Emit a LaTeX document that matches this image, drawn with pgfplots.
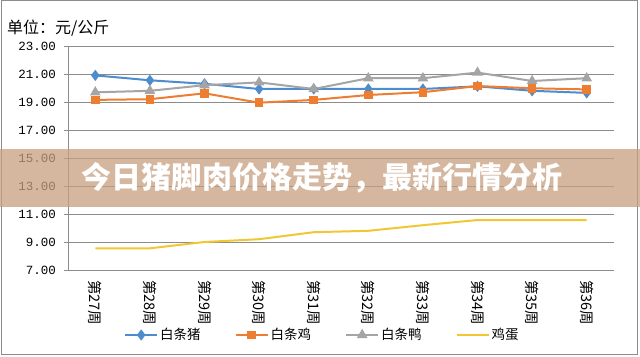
\documentclass[border=0pt]{standalone}
\usepackage{pgfplots}
\pgfplotsset{compat=1.18}
\usepackage{fontspec}
\setmainfont{Noto Sans CJK SC}
\newfontfamily\cjk{Noto Sans CJK SC}
\newfontfamily\numfont{Liberation Mono}
\definecolor{cblue}{RGB}{79,140,205}
\definecolor{corange}{RGB}{237,125,49}
\definecolor{cgray}{RGB}{165,165,165}
\definecolor{cyellow}{RGB}{242,200,50}
\definecolor{axgray}{RGB}{140,140,140}
\definecolor{banner}{RGB}{200,160,128}
\begin{document}
\begin{tikzpicture}[x=1bp,y=1bp]
\path[use as bounding box] (0,0) rectangle (640,356);
\fill[white] (0,0) rectangle (640,356);
\draw[axgray, line width=1bp] (1,2) rectangle (637,355);
\node[anchor=west, font=\cjk\fontsize{16bp}{16bp}\selectfont, inner sep=0pt] at (7,328) {单位：元/公斤};
\begin{axis}[
  at={(68bp,86bp)}, anchor=south west, scale only axis,
  width=546bp, height=224bp,
  xmin=0, xmax=10, ymin=7, ymax=23,
  axis x line*=bottom, axis y line*=left,
  axis line style={draw=axgray, line width=0.8bp},
  tick align=outside,
  major tick length=4bp,
  tick style={axgray, line width=0.8bp},
  ytick={7,9,...,23},
  yticklabels={7.00,9.00,11.00,13.00,15.00,17.00,19.00,21.00,23.00},
  yticklabel style={font=\numfont\fontsize{12.5bp}{12.5bp}\selectfont, inner sep=0pt, xshift=-8bp},
  ymajorgrids,
  grid style={axgray, line width=0.8bp},
  xtick={0.5,1.5,...,9.5},
  xticklabels={第27周,第28周,第29周,第30周,第31周,第32周,第33周,第34周,第35周,第36周},
  xtick style={draw=none},
  xticklabel style={rotate=-90, anchor=west, font=\cjk\fontsize{14.5bp}{14.5bp}\selectfont, inner ysep=0pt, inner xsep=6bp},
  extra x ticks={0,1,...,10},
  extra x tick labels={},
  extra x tick style={tick style={draw=axgray, line width=0.8bp}},
  legend columns=4,
  legend cell align=left,
  legend image code/.code={\draw[mark repeat=2,mark phase=2] plot coordinates {(0bp,0bp) (16bp,0bp) (32bp,0bp)};},
  legend style={draw=none, fill=none, at={(0.466,-0.29)}, anchor=center,
    font=\cjk\fontsize{13.5bp}{13.5bp}\selectfont,
    /tikz/every even column/.append style={column sep=32bp}},
]
\addplot[color=cblue, line width=2bp, mark=diamond*, mark size=4bp] coordinates {
 (0.5,20.9) (1.5,20.55) (2.5,20.3) (3.5,19.93) (4.5,19.93) (5.5,19.93) (6.5,19.93) (7.5,20.12) (8.5,19.8) (9.5,19.65)};
\addlegendentry{白条猪}
\addplot[color=corange, line width=2bp, mark=square*, mark size=3.3bp] coordinates {
 (0.5,19.15) (1.5,19.2) (2.5,19.62) (3.5,18.95) (4.5,19.15) (5.5,19.5) (6.5,19.7) (7.5,20.14) (8.5,19.98) (9.5,19.9)};
\addlegendentry{白条鸡}
\addplot[color=cgray, line width=2bp, mark=triangle*, mark size=4.2bp] coordinates {
 (0.5,19.69) (1.5,19.8) (2.5,20.2) (3.5,20.4) (4.5,19.93) (5.5,20.7) (6.5,20.7) (7.5,21.1) (8.5,20.5) (9.5,20.7)};
\addlegendentry{白条鸭}
\addplot[color=cyellow, line width=2bp, mark=none] coordinates {
 (0.5,8.55) (1.5,8.55) (2.5,9.0) (3.5,9.2) (4.5,9.7) (5.5,9.8) (6.5,10.2) (7.5,10.57) (8.5,10.57) (9.5,10.57)};
\addlegendentry{鸡蛋}
\end{axis}
\fill[banner, fill opacity=0.75] (0,149) rectangle (640,207);
\node[text=white, font=\cjk\bfseries\fontsize{30bp}{30bp}\selectfont, inner sep=0pt] at (322,178) {今日猪脚肉价格走势，最新行情分析};
\end{tikzpicture}
\end{document}
